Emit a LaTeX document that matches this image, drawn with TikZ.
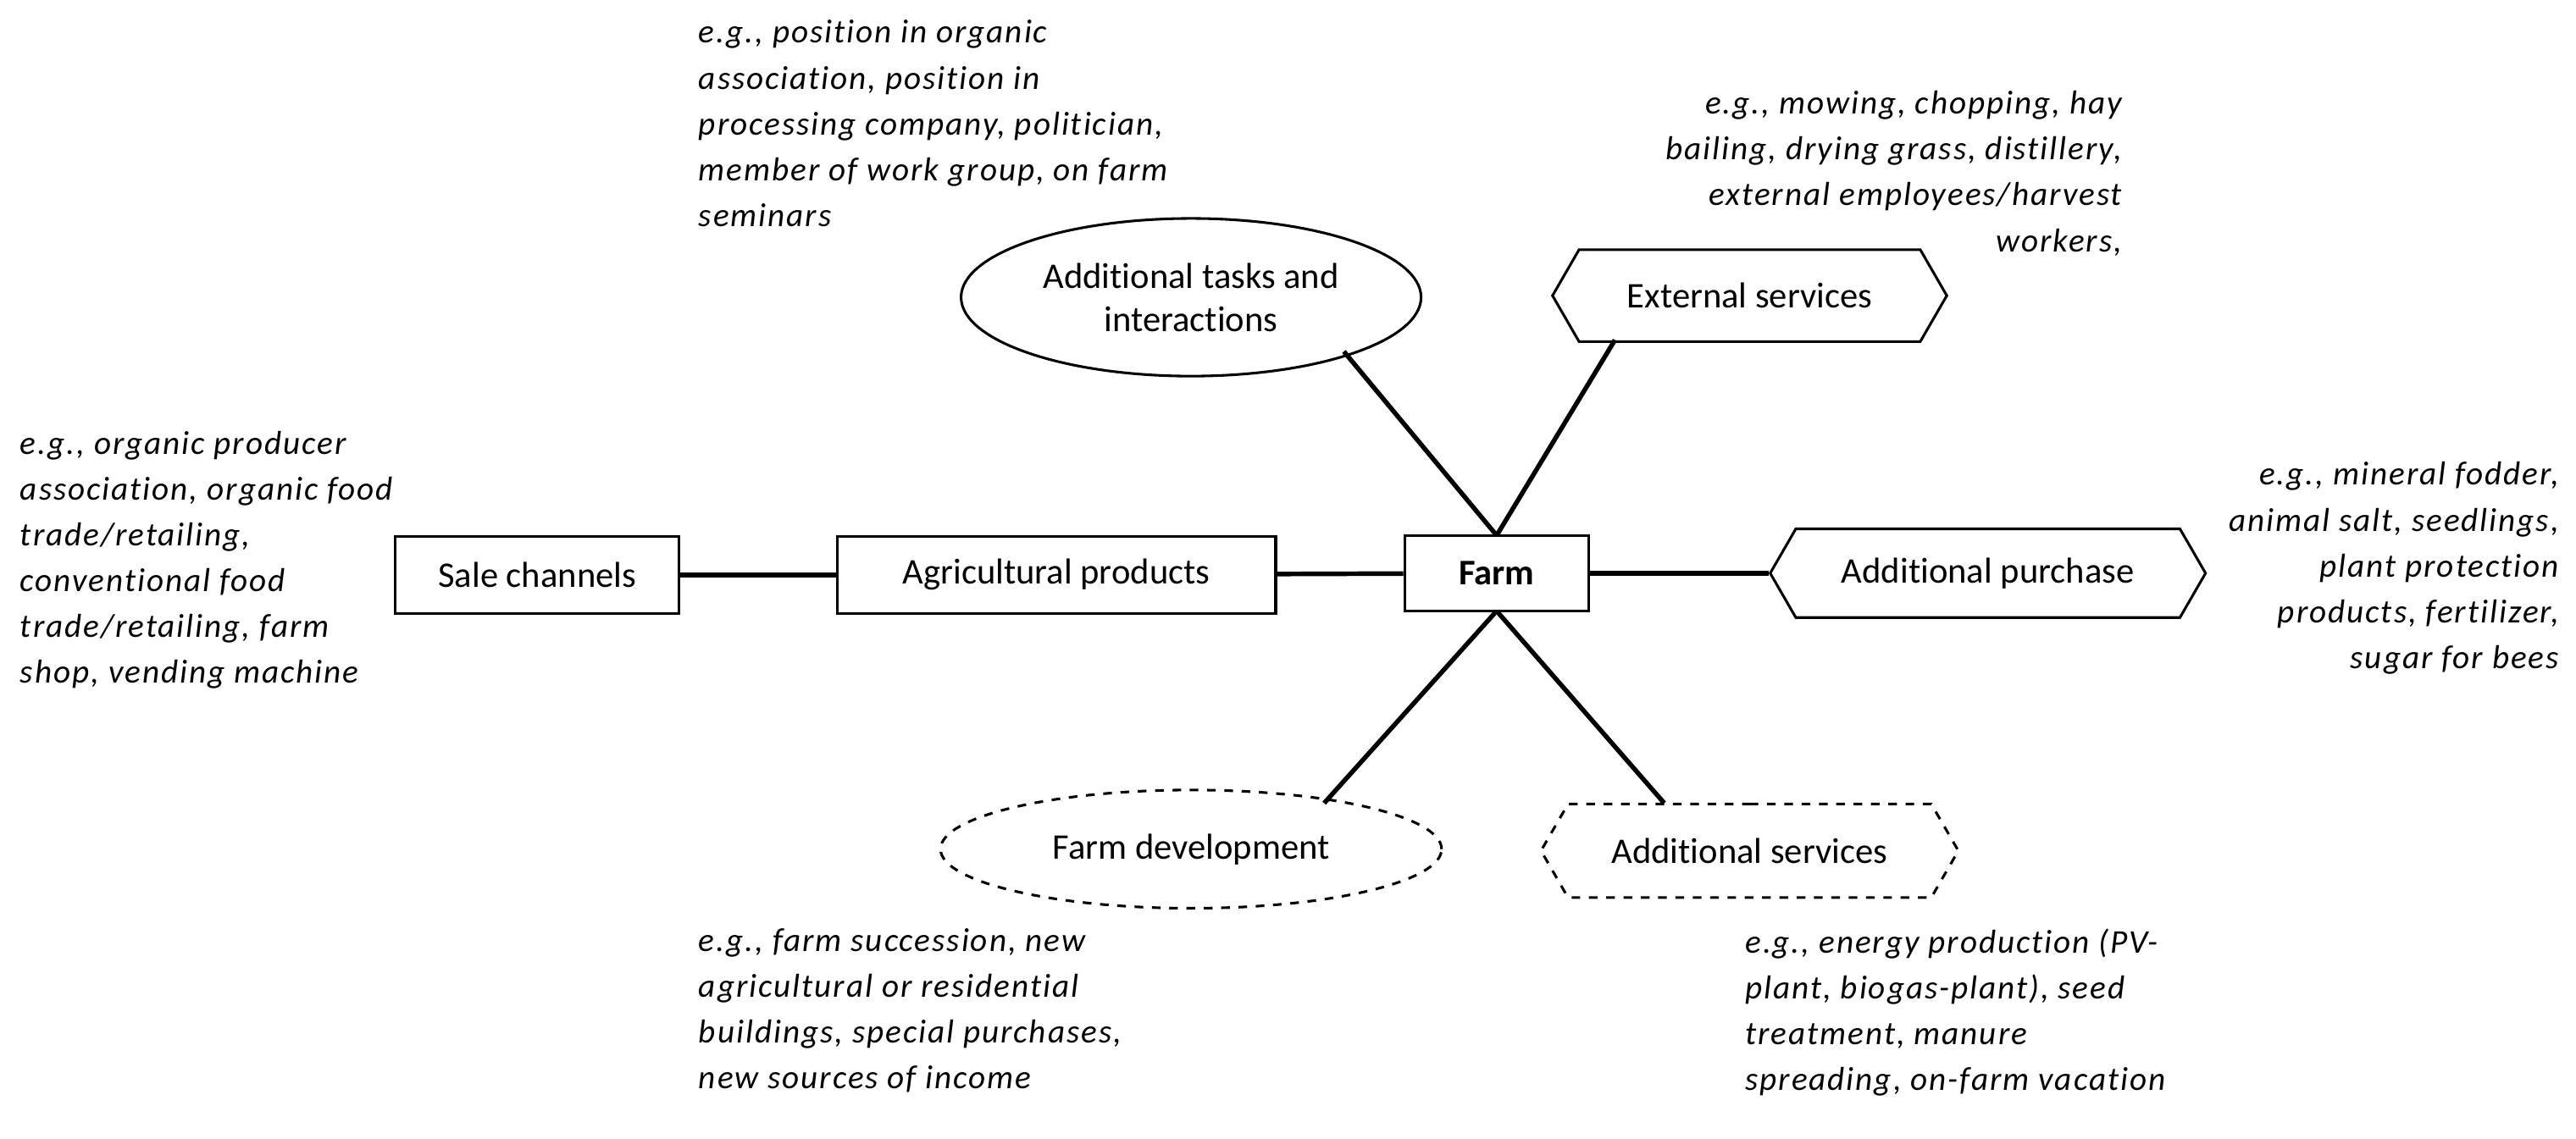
\documentclass[tikz,border=0pt]{standalone}
\usepackage{fontspec}
\setmainfont[Ligatures={NoCommon,NoRare,NoContextual}]{Carlito}
\usetikzlibrary{shapes.geometric,shapes.symbols}
\begin{document}
\begin{tikzpicture}[x=0.02cm,y=-0.02cm,
 box/.style={draw,line width=0.9pt,font=\fontsize{12.5}{15}\selectfont,inner sep=0pt},
 hex/.style={box,signal,signal to=west and east,signal pointer angle=120},
 conn/.style={line width=1.6pt},
 note/.style={font=\fontsize{11.5}{15.9}\selectfont\itshape\addfontfeature{LetterSpace=5},inner sep=0pt}]
\useasboundingbox (0,0) rectangle (1568,693);
\node[box,minimum width=112*0.02cm,minimum height=46*0.02cm] (farm) at (911,349) {\textbf{Farm}};
\node[box,minimum width=267*0.02cm,minimum height=47*0.02cm] (agri) at (643,350) {Agricultural products};
\node[box,minimum width=173*0.02cm,minimum height=47*0.02cm] (sale) at (327,350) {Sale channels};
\node[hex,minimum width=265*0.02cm,minimum height=54*0.02cm] (purch) at (1210,349) {Additional purchase};
\node[hex,minimum width=240*0.02cm,minimum height=56*0.02cm] (ext) at (1065,180) {External services};
\node[hex,dashed,minimum width=254*0.02cm,minimum height=57*0.02cm] (addserv) at (1065,518) {Additional services};
\node[box,ellipse,minimum width=280*0.02cm,minimum height=96*0.02cm,align=center] (tasks) at (725,181) {Additional tasks and\\interactions};
\node[box,ellipse,dashed,minimum width=305*0.02cm,minimum height=72*0.02cm] (dev) at (725,517) {Farm development};
\coordinate (ft1) at (911,326); \coordinate (fb) at (911,372);
\coordinate (t1) at (818,214);
\draw[conn] (sale) -- (agri);
\draw[conn] (agri) -- (farm);
\draw[conn] (farm.east) -- (purch.west);
\draw[conn] (ft1) -- (t1);
\draw[conn] (ft1) -- (983,207) coordinate (e1);
\draw[conn] (fb) -- (806,489) coordinate (d1);
\draw[conn] (fb) -- (1013,489) coordinate (a1);
\node[note,anchor=north west,align=left] (n1) at (425,12) {e.g., position in organic\\association, position in\\processing company, politician,\\member of work group, on farm\\seminars};
\node[note,anchor=north east,align=right] (n2) at (1292,55) {e.g., mowing, chopping, hay\\bailing, drying grass, distillery,\\external employees/harvest\\workers,};
\node[note,anchor=north west,align=left] (n3) at (12,262) {e.g., organic producer\\association, organic food\\trade/retailing,\\conventional food\\trade/retailing, farm\\shop, vending machine};
\node[note,anchor=north east,align=right] (n4) at (1558,281) {e.g., mineral fodder,\\animal salt, seedlings,\\plant protection\\products, fertilizer,\\sugar for bees};
\node[note,anchor=north west,align=left] (n5) at (425,565) {e.g., farm succession, new\\agricultural or residential\\buildings, special purchases,\\new sources of income};
\node[note,anchor=north west,align=left] (n6) at (1062,565) {e.g., energy production (PV-\\plant, biogas-plant), seed\\treatment, manure\\spreading, on-farm vacation};
\end{tikzpicture}
\end{document}
